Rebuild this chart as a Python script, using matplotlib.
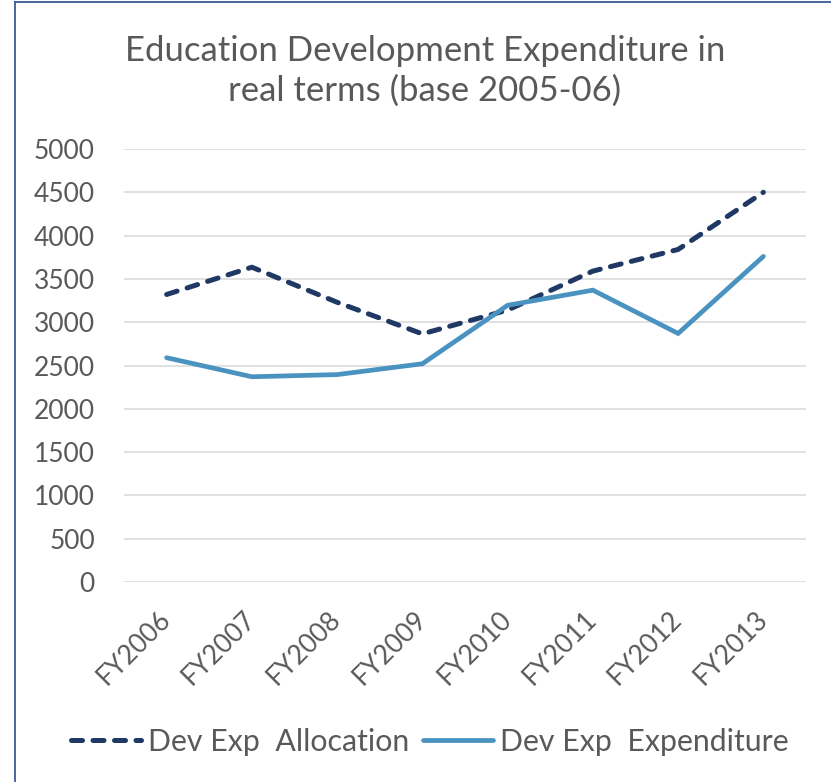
import matplotlib
matplotlib.use("Agg")
import matplotlib.pyplot as plt
from matplotlib.lines import Line2D

# Data (real terms, base 2005-06)
years = ["FY2006", "FY2007", "FY2008", "FY2009", "FY2010", "FY2011", "FY2012", "FY2013"]
allocation = [3320, 3635, 3230, 2865, 3140, 3590, 3840, 4500]
expenditure = [2590, 2370, 2395, 2520, 3195, 3370, 2870, 3760]
y_ticks = [0, 500, 1000, 1500, 2000, 2500, 3000, 3500, 4000, 4500, 5000]

TEXT = "#595959"
NAVY = "#203864"
BLUE = "#4A93C0"
GRID = "#D9D9D9"
BORDER = "#3A5A9A"

plt.rcParams["font.family"] = ["Lato", "DejaVu Sans"]

W, H = 831, 782
fig = plt.figure(figsize=(W / 100, H / 100), dpi=100)
ax = fig.add_axes([124 / W, 1 - 582 / H, (806 - 124) / W, (582 - 149) / H])

x = list(range(len(years)))
ax.plot(x, allocation, color=NAVY, lw=3.6, linestyle=(0, (2.2, 2.1)),
        dash_capstyle="round", dash_joinstyle="round", label="Dev Exp  Allocation", zorder=3)
ax.plot(x, expenditure, color=BLUE, lw=3.4, solid_capstyle="round",
        solid_joinstyle="miter", label="Dev Exp  Expenditure", zorder=3)

ax.set_xlim(-0.5, len(years) - 0.5)
ax.set_ylim(0, 5000)
ax.set_yticks(y_ticks)
ax.set_yticklabels([str(v) for v in y_ticks])
ax.set_xticks(x)
ax.set_xticklabels(years)
ax.yaxis.grid(True, color=GRID, lw=1.1)
ax.set_axisbelow(True)
for s in ax.spines.values():
    s.set_visible(False)
ax.tick_params(axis="y", length=0, pad=21, labelsize=19, labelcolor=TEXT)
ax.tick_params(axis="x", length=0, pad=24, labelsize=19, labelcolor=TEXT)
for lbl in ax.get_xticklabels():
    lbl.set_rotation(45)
    lbl.set_ha("right")
    lbl.set_va("center")
    lbl.set_rotation_mode("anchor")

fig.text(425 / W, 1 - 71 / H, "Education Development Expenditure in\nreal terms (base 2005-06)",
         ha="center", va="center", fontsize=25, color=TEXT, linespacing=1.3)

leg = fig.legend(loc="center", bbox_to_anchor=(430 / W, 1 - 742 / H), ncol=2,
                 frameon=False, fontsize=21.8, labelcolor=TEXT, handlelength=2.3,
                 handletextpad=0.25, columnspacing=0.45)

# Chart frame on the left and top edges
fig.add_artist(Line2D([14.5 / W, 14.5 / W], [0, 1 - 2 / H], transform=fig.transFigure,
                      color=BORDER, lw=1.3))
fig.add_artist(Line2D([14.5 / W, 1], [1 - 2 / H, 1 - 2 / H], transform=fig.transFigure,
                      color=BORDER, lw=1.3))

fig.savefig("out.png", dpi=100, facecolor="white")
